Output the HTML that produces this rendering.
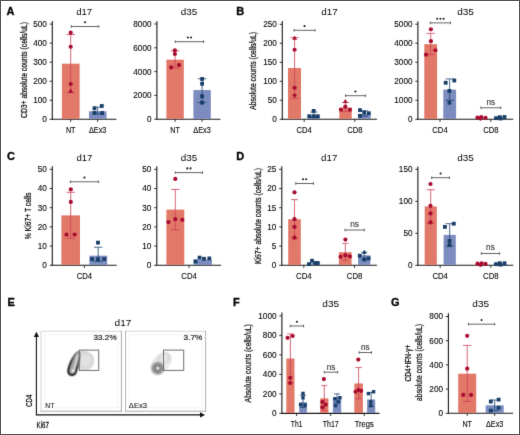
<!DOCTYPE html>
<html><head><meta charset="utf-8"><title>Figure</title>
<style>
html,body{margin:0;padding:0;background:#fff;}
body{width:520px;height:435px;overflow:hidden;}
svg{display:block;font-family:"Liberation Sans", sans-serif;will-change:transform;}
</style></head>
<body>
<svg width="520" height="435" viewBox="0 0 520 435" font-family='"Liberation Sans", sans-serif'>
<defs><filter id="soft" x="0" y="0" width="520" height="435" filterUnits="userSpaceOnUse" color-interpolation-filters="sRGB"><feConvolveMatrix order="3" kernelMatrix="0.00810 0.07380 0.00810 0.07380 0.67240 0.07380 0.00810 0.07380 0.00810" edgeMode="none"/></filter></defs>
<rect x="0" y="0" width="520" height="435" fill="#fff"/>
<g filter="url(#soft)">
<text x="6.60" y="15.10" font-size="11.0" font-weight="bold" fill="#000" stroke="#000" stroke-width="0.3">A</text>
<text x="236.30" y="15.10" font-size="11.0" font-weight="bold" fill="#000" stroke="#000" stroke-width="0.3">B</text>
<text x="7.00" y="159.90" font-size="11.0" font-weight="bold" fill="#000" stroke="#000" stroke-width="0.3">C</text>
<text x="236.20" y="159.90" font-size="11.0" font-weight="bold" fill="#000" stroke="#000" stroke-width="0.3">D</text>
<text x="7.40" y="306.20" font-size="11.0" font-weight="bold" fill="#000" stroke="#000" stroke-width="0.3">E</text>
<text x="232.90" y="306.00" font-size="11.0" font-weight="bold" fill="#000" stroke="#000" stroke-width="0.3">F</text>
<text x="391.00" y="306.00" font-size="11.0" font-weight="bold" fill="#000" stroke="#000" stroke-width="0.3">G</text>
<line x1="52.30" y1="21.00" x2="52.30" y2="119.80" stroke="#1a1a1a" stroke-width="1.1"/>
<line x1="51.80" y1="119.30" x2="116.40" y2="119.30" stroke="#1a1a1a" stroke-width="1.1"/>
<line x1="49.70" y1="119.30" x2="52.30" y2="119.30" stroke="#1a1a1a" stroke-width="0.9"/>
<text x="46.90" y="122.25" font-size="8.2" stroke="#1a1a1a" stroke-width="0.12" text-anchor="end">0</text>
<line x1="49.70" y1="100.26" x2="52.30" y2="100.26" stroke="#1a1a1a" stroke-width="0.9"/>
<text x="46.90" y="103.21" font-size="8.2" stroke="#1a1a1a" stroke-width="0.12" text-anchor="end">100</text>
<line x1="49.70" y1="81.22" x2="52.30" y2="81.22" stroke="#1a1a1a" stroke-width="0.9"/>
<text x="46.90" y="84.17" font-size="8.2" stroke="#1a1a1a" stroke-width="0.12" text-anchor="end">200</text>
<line x1="49.70" y1="62.18" x2="52.30" y2="62.18" stroke="#1a1a1a" stroke-width="0.9"/>
<text x="46.90" y="65.13" font-size="8.2" stroke="#1a1a1a" stroke-width="0.12" text-anchor="end">300</text>
<line x1="49.70" y1="43.14" x2="52.30" y2="43.14" stroke="#1a1a1a" stroke-width="0.9"/>
<text x="46.90" y="46.09" font-size="8.2" stroke="#1a1a1a" stroke-width="0.12" text-anchor="end">400</text>
<line x1="49.70" y1="24.10" x2="52.30" y2="24.10" stroke="#1a1a1a" stroke-width="0.9"/>
<text x="46.90" y="27.05" font-size="8.2" stroke="#1a1a1a" stroke-width="0.12" text-anchor="end">500</text>
<text x="84.15" y="15.30" font-size="9.2" text-anchor="middle" textLength="16.00" lengthAdjust="spacingAndGlyphs">d17</text>
<text x="26.50" y="70.00" font-size="8.9" stroke="#1a1a1a" stroke-width="0.25" text-anchor="middle" textLength="95.80" lengthAdjust="spacingAndGlyphs" transform="rotate(-90 26.50 70.00)">CD3+ absolute counts (cells/uL)</text>
<rect x="61.90" y="63.70" width="17.70" height="55.20" fill="#E17868"/>
<rect x="89.00" y="111.30" width="17.50" height="7.60" fill="#7C8CBF"/>
<line x1="70.70" y1="34.57" x2="70.70" y2="92.64" stroke="#CE4058" stroke-width="0.8"/>
<line x1="66.50" y1="34.57" x2="74.90" y2="34.57" stroke="#CE4058" stroke-width="0.8"/>
<line x1="66.50" y1="92.64" x2="74.90" y2="92.64" stroke="#CE4058" stroke-width="0.8"/>
<line x1="97.70" y1="107.11" x2="97.70" y2="113.97" stroke="#1E4470" stroke-width="0.8"/>
<line x1="93.50" y1="107.11" x2="101.90" y2="107.11" stroke="#1E4470" stroke-width="0.8"/>
<line x1="93.50" y1="113.97" x2="101.90" y2="113.97" stroke="#1E4470" stroke-width="0.8"/>
<circle cx="70.70" cy="32.67" r="2.1" fill="#A80C30"/>
<circle cx="70.70" cy="46.76" r="2.1" fill="#A80C30"/>
<circle cx="70.70" cy="84.08" r="2.1" fill="#A80C30"/>
<path d="M70.70,88.61L73.20,92.79L68.20,92.79Z" fill="#A80C30"/>
<rect x="99.90" y="104.07" width="3.8" height="3.8" fill="#183E68"/>
<rect x="92.60" y="106.36" width="3.8" height="3.8" fill="#183E68"/>
<rect x="92.60" y="110.93" width="3.8" height="3.8" fill="#183E68"/>
<rect x="100.20" y="111.12" width="3.8" height="3.8" fill="#183E68"/>
<line x1="70.70" y1="119.30" x2="70.70" y2="121.90" stroke="#1a1a1a" stroke-width="0.9"/>
<line x1="97.70" y1="119.30" x2="97.70" y2="121.90" stroke="#1a1a1a" stroke-width="0.9"/>
<text x="70.70" y="132.70" font-size="8.3" stroke="#1a1a1a" stroke-width="0.12" text-anchor="middle" textLength="9.60" lengthAdjust="spacingAndGlyphs">NT</text>
<text x="97.70" y="132.70" font-size="8.3" stroke="#1a1a1a" stroke-width="0.12" text-anchor="middle" textLength="17.50" lengthAdjust="spacingAndGlyphs">ΔEx3</text>
<line x1="71.30" y1="26.50" x2="98.80" y2="26.50" stroke="#484848" stroke-width="0.85"/>
<line x1="71.30" y1="25.20" x2="71.30" y2="27.80" stroke="#484848" stroke-width="0.85"/>
<line x1="98.80" y1="25.20" x2="98.80" y2="27.80" stroke="#484848" stroke-width="0.85"/>
<circle cx="85.05" cy="22.30" r="1.05" fill="#1a1a1a"/>
<line x1="156.90" y1="21.30" x2="156.90" y2="119.75" stroke="#1a1a1a" stroke-width="1.1"/>
<line x1="156.40" y1="119.25" x2="220.40" y2="119.25" stroke="#1a1a1a" stroke-width="1.1"/>
<line x1="154.30" y1="119.25" x2="156.90" y2="119.25" stroke="#1a1a1a" stroke-width="0.9"/>
<text x="151.50" y="122.20" font-size="8.2" stroke="#1a1a1a" stroke-width="0.12" text-anchor="end">0</text>
<line x1="154.30" y1="95.43" x2="156.90" y2="95.43" stroke="#1a1a1a" stroke-width="0.9"/>
<text x="151.50" y="98.38" font-size="8.2" stroke="#1a1a1a" stroke-width="0.12" text-anchor="end">2000</text>
<line x1="154.30" y1="71.61" x2="156.90" y2="71.61" stroke="#1a1a1a" stroke-width="0.9"/>
<text x="151.50" y="74.56" font-size="8.2" stroke="#1a1a1a" stroke-width="0.12" text-anchor="end">4000</text>
<line x1="154.30" y1="47.79" x2="156.90" y2="47.79" stroke="#1a1a1a" stroke-width="0.9"/>
<text x="151.50" y="50.74" font-size="8.2" stroke="#1a1a1a" stroke-width="0.12" text-anchor="end">6000</text>
<line x1="154.30" y1="23.97" x2="156.90" y2="23.97" stroke="#1a1a1a" stroke-width="0.9"/>
<text x="151.50" y="26.92" font-size="8.2" stroke="#1a1a1a" stroke-width="0.12" text-anchor="end">8000</text>
<text x="189.00" y="15.40" font-size="9.2" text-anchor="middle" textLength="16.50" lengthAdjust="spacingAndGlyphs">d35</text>
<rect x="166.40" y="59.70" width="17.40" height="59.15" fill="#E17868"/>
<rect x="193.40" y="90.07" width="17.40" height="28.78" fill="#7C8CBF"/>
<line x1="175.10" y1="50.77" x2="175.10" y2="68.04" stroke="#CE4058" stroke-width="0.8"/>
<line x1="170.90" y1="50.77" x2="179.30" y2="50.77" stroke="#CE4058" stroke-width="0.8"/>
<line x1="170.90" y1="68.04" x2="179.30" y2="68.04" stroke="#CE4058" stroke-width="0.8"/>
<line x1="202.10" y1="78.76" x2="202.10" y2="102.58" stroke="#1E4470" stroke-width="0.8"/>
<line x1="197.90" y1="78.76" x2="206.30" y2="78.76" stroke="#1E4470" stroke-width="0.8"/>
<line x1="197.90" y1="102.58" x2="206.30" y2="102.58" stroke="#1E4470" stroke-width="0.8"/>
<circle cx="174.90" cy="50.41" r="2.1" fill="#A80C30"/>
<circle cx="174.90" cy="53.98" r="2.1" fill="#A80C30"/>
<circle cx="171.20" cy="67.44" r="2.1" fill="#A80C30"/>
<circle cx="179.00" cy="65.06" r="2.1" fill="#A80C30"/>
<rect x="200.20" y="77.09" width="3.8" height="3.8" fill="#183E68"/>
<rect x="200.20" y="81.86" width="3.8" height="3.8" fill="#183E68"/>
<rect x="200.20" y="94.36" width="3.8" height="3.8" fill="#183E68"/>
<rect x="200.20" y="100.80" width="3.8" height="3.8" fill="#183E68"/>
<line x1="175.10" y1="119.25" x2="175.10" y2="121.85" stroke="#1a1a1a" stroke-width="0.9"/>
<line x1="202.10" y1="119.25" x2="202.10" y2="121.85" stroke="#1a1a1a" stroke-width="0.9"/>
<text x="175.10" y="132.70" font-size="8.3" stroke="#1a1a1a" stroke-width="0.12" text-anchor="middle" textLength="9.60" lengthAdjust="spacingAndGlyphs">NT</text>
<text x="202.10" y="132.70" font-size="8.3" stroke="#1a1a1a" stroke-width="0.12" text-anchor="middle" textLength="17.50" lengthAdjust="spacingAndGlyphs">ΔEx3</text>
<line x1="175.30" y1="41.70" x2="203.60" y2="41.70" stroke="#484848" stroke-width="0.85"/>
<line x1="175.30" y1="40.40" x2="175.30" y2="43.00" stroke="#484848" stroke-width="0.85"/>
<line x1="203.60" y1="40.40" x2="203.60" y2="43.00" stroke="#484848" stroke-width="0.85"/>
<circle cx="187.85" cy="37.50" r="1.05" fill="#1a1a1a"/>
<circle cx="191.05" cy="37.50" r="1.05" fill="#1a1a1a"/>
<line x1="282.30" y1="21.00" x2="282.30" y2="119.75" stroke="#1a1a1a" stroke-width="1.1"/>
<line x1="281.80" y1="119.25" x2="377.00" y2="119.25" stroke="#1a1a1a" stroke-width="1.1"/>
<line x1="279.70" y1="119.25" x2="282.30" y2="119.25" stroke="#1a1a1a" stroke-width="0.9"/>
<text x="276.90" y="122.20" font-size="8.2" stroke="#1a1a1a" stroke-width="0.12" text-anchor="end">0</text>
<line x1="279.70" y1="100.27" x2="282.30" y2="100.27" stroke="#1a1a1a" stroke-width="0.9"/>
<text x="276.90" y="103.22" font-size="8.2" stroke="#1a1a1a" stroke-width="0.12" text-anchor="end">50</text>
<line x1="279.70" y1="81.28" x2="282.30" y2="81.28" stroke="#1a1a1a" stroke-width="0.9"/>
<text x="276.90" y="84.23" font-size="8.2" stroke="#1a1a1a" stroke-width="0.12" text-anchor="end">100</text>
<line x1="279.70" y1="62.30" x2="282.30" y2="62.30" stroke="#1a1a1a" stroke-width="0.9"/>
<text x="276.90" y="65.25" font-size="8.2" stroke="#1a1a1a" stroke-width="0.12" text-anchor="end">150</text>
<line x1="279.70" y1="43.31" x2="282.30" y2="43.31" stroke="#1a1a1a" stroke-width="0.9"/>
<text x="276.90" y="46.26" font-size="8.2" stroke="#1a1a1a" stroke-width="0.12" text-anchor="end">200</text>
<line x1="279.70" y1="24.33" x2="282.30" y2="24.33" stroke="#1a1a1a" stroke-width="0.9"/>
<text x="276.90" y="27.28" font-size="8.2" stroke="#1a1a1a" stroke-width="0.12" text-anchor="end">250</text>
<text x="329.40" y="15.40" font-size="9.2" text-anchor="middle" textLength="16.50" lengthAdjust="spacingAndGlyphs">d17</text>
<text x="255.60" y="70.85" font-size="8.8" stroke="#1a1a1a" stroke-width="0.25" text-anchor="middle" textLength="77.70" lengthAdjust="spacingAndGlyphs" transform="rotate(-90 255.60 70.85)">Absolute counts (cells/uL)</text>
<rect x="288.00" y="67.99" width="13.00" height="50.86" fill="#E17868"/>
<rect x="307.60" y="115.07" width="12.40" height="3.78" fill="#7C8CBF"/>
<rect x="339.30" y="107.48" width="12.40" height="11.37" fill="#E17868"/>
<rect x="358.20" y="113.93" width="12.50" height="4.92" fill="#7C8CBF"/>
<line x1="294.60" y1="37.61" x2="294.60" y2="98.37" stroke="#CE4058" stroke-width="0.8"/>
<line x1="290.40" y1="37.61" x2="298.80" y2="37.61" stroke="#CE4058" stroke-width="0.8"/>
<line x1="290.40" y1="98.37" x2="298.80" y2="98.37" stroke="#CE4058" stroke-width="0.8"/>
<line x1="313.80" y1="112.04" x2="313.80" y2="117.73" stroke="#1E4470" stroke-width="0.8"/>
<line x1="310.30" y1="112.04" x2="317.30" y2="112.04" stroke="#1E4470" stroke-width="0.8"/>
<line x1="310.30" y1="117.73" x2="317.30" y2="117.73" stroke="#1E4470" stroke-width="0.8"/>
<line x1="345.50" y1="102.54" x2="345.50" y2="111.66" stroke="#CE4058" stroke-width="0.8"/>
<line x1="342.00" y1="102.54" x2="349.00" y2="102.54" stroke="#CE4058" stroke-width="0.8"/>
<line x1="342.00" y1="111.66" x2="349.00" y2="111.66" stroke="#CE4058" stroke-width="0.8"/>
<line x1="364.40" y1="110.90" x2="364.40" y2="116.21" stroke="#1E4470" stroke-width="0.8"/>
<line x1="360.90" y1="110.90" x2="367.90" y2="110.90" stroke="#1E4470" stroke-width="0.8"/>
<line x1="360.90" y1="116.21" x2="367.90" y2="116.21" stroke="#1E4470" stroke-width="0.8"/>
<path d="M294.60,35.49L297.10,39.67L292.10,39.67Z" fill="#A80C30"/>
<circle cx="294.60" cy="49.76" r="2.1" fill="#A80C30"/>
<circle cx="294.60" cy="87.73" r="2.1" fill="#A80C30"/>
<path d="M294.60,92.97L296.96,95.33L294.60,97.68L292.24,95.33Z" fill="#A80C30"/>
<rect x="311.80" y="109.00" width="3.8" height="3.8" fill="#183E68"/>
<rect x="307.40" y="114.31" width="3.8" height="3.8" fill="#183E68"/>
<rect x="311.80" y="114.31" width="3.8" height="3.8" fill="#183E68"/>
<rect x="315.70" y="114.31" width="3.8" height="3.8" fill="#183E68"/>
<path d="M345.30,98.90L347.80,103.08L342.80,103.08Z" fill="#A80C30"/>
<circle cx="345.30" cy="106.72" r="2.1" fill="#A80C30"/>
<circle cx="340.90" cy="109.76" r="2.1" fill="#A80C30"/>
<circle cx="350.00" cy="109.76" r="2.1" fill="#A80C30"/>
<rect x="358.10" y="108.24" width="3.8" height="3.8" fill="#183E68"/>
<rect x="362.30" y="110.52" width="3.8" height="3.8" fill="#183E68"/>
<rect x="366.90" y="111.27" width="3.8" height="3.8" fill="#183E68"/>
<rect x="358.10" y="113.93" width="3.8" height="3.8" fill="#183E68"/>
<line x1="304.20" y1="119.25" x2="304.20" y2="121.85" stroke="#1a1a1a" stroke-width="0.9"/>
<line x1="354.80" y1="119.25" x2="354.80" y2="121.85" stroke="#1a1a1a" stroke-width="0.9"/>
<text x="304.20" y="132.70" font-size="8.3" stroke="#1a1a1a" stroke-width="0.12" text-anchor="middle" textLength="15.30" lengthAdjust="spacingAndGlyphs">CD4</text>
<text x="354.80" y="132.70" font-size="8.3" stroke="#1a1a1a" stroke-width="0.12" text-anchor="middle" textLength="15.30" lengthAdjust="spacingAndGlyphs">CD8</text>
<line x1="294.00" y1="30.30" x2="315.00" y2="30.30" stroke="#484848" stroke-width="0.85"/>
<line x1="294.00" y1="29.00" x2="294.00" y2="31.60" stroke="#484848" stroke-width="0.85"/>
<line x1="315.00" y1="29.00" x2="315.00" y2="31.60" stroke="#484848" stroke-width="0.85"/>
<circle cx="304.50" cy="26.10" r="1.05" fill="#1a1a1a"/>
<line x1="345.50" y1="95.70" x2="365.40" y2="95.70" stroke="#484848" stroke-width="0.85"/>
<line x1="345.50" y1="94.40" x2="345.50" y2="97.00" stroke="#484848" stroke-width="0.85"/>
<line x1="365.40" y1="94.40" x2="365.40" y2="97.00" stroke="#484848" stroke-width="0.85"/>
<circle cx="355.45" cy="91.50" r="1.05" fill="#1a1a1a"/>
<line x1="417.90" y1="21.30" x2="417.90" y2="119.80" stroke="#1a1a1a" stroke-width="1.1"/>
<line x1="417.40" y1="119.30" x2="513.20" y2="119.30" stroke="#1a1a1a" stroke-width="1.1"/>
<line x1="415.30" y1="119.30" x2="417.90" y2="119.30" stroke="#1a1a1a" stroke-width="0.9"/>
<text x="412.50" y="122.25" font-size="8.2" stroke="#1a1a1a" stroke-width="0.12" text-anchor="end">0</text>
<line x1="415.30" y1="100.28" x2="417.90" y2="100.28" stroke="#1a1a1a" stroke-width="0.9"/>
<text x="412.50" y="103.23" font-size="8.2" stroke="#1a1a1a" stroke-width="0.12" text-anchor="end">1000</text>
<line x1="415.30" y1="81.26" x2="417.90" y2="81.26" stroke="#1a1a1a" stroke-width="0.9"/>
<text x="412.50" y="84.21" font-size="8.2" stroke="#1a1a1a" stroke-width="0.12" text-anchor="end">2000</text>
<line x1="415.30" y1="62.24" x2="417.90" y2="62.24" stroke="#1a1a1a" stroke-width="0.9"/>
<text x="412.50" y="65.19" font-size="8.2" stroke="#1a1a1a" stroke-width="0.12" text-anchor="end">3000</text>
<line x1="415.30" y1="43.22" x2="417.90" y2="43.22" stroke="#1a1a1a" stroke-width="0.9"/>
<text x="412.50" y="46.17" font-size="8.2" stroke="#1a1a1a" stroke-width="0.12" text-anchor="end">4000</text>
<line x1="415.30" y1="24.20" x2="417.90" y2="24.20" stroke="#1a1a1a" stroke-width="0.9"/>
<text x="412.50" y="27.15" font-size="8.2" stroke="#1a1a1a" stroke-width="0.12" text-anchor="end">5000</text>
<text x="465.60" y="15.40" font-size="9.2" text-anchor="middle" textLength="16.70" lengthAdjust="spacingAndGlyphs">d35</text>
<rect x="424.30" y="44.17" width="12.80" height="74.73" fill="#E17868"/>
<rect x="443.30" y="89.63" width="12.80" height="29.27" fill="#7C8CBF"/>
<rect x="475.50" y="118.16" width="12.50" height="0.74" fill="#E17868"/>
<rect x="494.20" y="117.97" width="12.40" height="0.93" fill="#7C8CBF"/>
<line x1="430.70" y1="33.33" x2="430.70" y2="54.63" stroke="#CE4058" stroke-width="0.8"/>
<line x1="426.50" y1="33.33" x2="434.90" y2="33.33" stroke="#CE4058" stroke-width="0.8"/>
<line x1="426.50" y1="54.63" x2="434.90" y2="54.63" stroke="#CE4058" stroke-width="0.8"/>
<line x1="449.70" y1="78.98" x2="449.70" y2="100.28" stroke="#1E4470" stroke-width="0.8"/>
<line x1="445.50" y1="78.98" x2="453.90" y2="78.98" stroke="#1E4470" stroke-width="0.8"/>
<line x1="445.50" y1="100.28" x2="453.90" y2="100.28" stroke="#1E4470" stroke-width="0.8"/>
<circle cx="430.90" cy="29.34" r="2.1" fill="#A80C30"/>
<circle cx="430.90" cy="41.13" r="2.1" fill="#A80C30"/>
<circle cx="426.00" cy="54.63" r="2.1" fill="#A80C30"/>
<circle cx="435.40" cy="50.26" r="2.1" fill="#A80C30"/>
<rect x="443.80" y="80.88" width="3.8" height="3.8" fill="#183E68"/>
<rect x="452.40" y="78.60" width="3.8" height="3.8" fill="#183E68"/>
<rect x="447.50" y="89.06" width="3.8" height="3.8" fill="#183E68"/>
<rect x="447.50" y="100.85" width="3.8" height="3.8" fill="#183E68"/>
<circle cx="477.50" cy="117.59" r="2.1" fill="#A80C30"/>
<circle cx="481.30" cy="117.21" r="2.1" fill="#A80C30"/>
<circle cx="485.50" cy="117.78" r="2.1" fill="#A80C30"/>
<circle cx="480.50" cy="118.54" r="2.1" fill="#A80C30"/>
<rect x="494.10" y="116.26" width="3.8" height="3.8" fill="#183E68"/>
<rect x="497.90" y="115.31" width="3.8" height="3.8" fill="#183E68"/>
<rect x="502.60" y="115.12" width="3.8" height="3.8" fill="#183E68"/>
<rect x="498.60" y="116.64" width="3.8" height="3.8" fill="#183E68"/>
<line x1="440.00" y1="119.30" x2="440.00" y2="121.90" stroke="#1a1a1a" stroke-width="0.9"/>
<line x1="490.80" y1="119.30" x2="490.80" y2="121.90" stroke="#1a1a1a" stroke-width="0.9"/>
<text x="440.00" y="132.70" font-size="8.3" stroke="#1a1a1a" stroke-width="0.12" text-anchor="middle" textLength="15.30" lengthAdjust="spacingAndGlyphs">CD4</text>
<text x="490.80" y="132.70" font-size="8.3" stroke="#1a1a1a" stroke-width="0.12" text-anchor="middle" textLength="15.30" lengthAdjust="spacingAndGlyphs">CD8</text>
<line x1="430.20" y1="22.90" x2="450.60" y2="22.90" stroke="#484848" stroke-width="0.85"/>
<line x1="430.20" y1="21.60" x2="430.20" y2="24.20" stroke="#484848" stroke-width="0.85"/>
<line x1="450.60" y1="21.60" x2="450.60" y2="24.20" stroke="#484848" stroke-width="0.85"/>
<circle cx="437.20" cy="18.70" r="1.05" fill="#1a1a1a"/>
<circle cx="440.40" cy="18.70" r="1.05" fill="#1a1a1a"/>
<circle cx="443.60" cy="18.70" r="1.05" fill="#1a1a1a"/>
<line x1="480.90" y1="107.80" x2="500.80" y2="107.80" stroke="#484848" stroke-width="0.85"/>
<line x1="480.90" y1="106.50" x2="480.90" y2="109.10" stroke="#484848" stroke-width="0.85"/>
<line x1="500.80" y1="106.50" x2="500.80" y2="109.10" stroke="#484848" stroke-width="0.85"/>
<text x="490.85" y="104.60" font-size="8.2" stroke="#333" stroke-width="0.12" text-anchor="middle" fill="#333">ns</text>
<line x1="52.30" y1="166.30" x2="52.30" y2="265.80" stroke="#1a1a1a" stroke-width="1.1"/>
<line x1="51.80" y1="265.30" x2="116.70" y2="265.30" stroke="#1a1a1a" stroke-width="1.1"/>
<line x1="49.70" y1="265.30" x2="52.30" y2="265.30" stroke="#1a1a1a" stroke-width="0.9"/>
<text x="46.90" y="268.25" font-size="8.2" stroke="#1a1a1a" stroke-width="0.12" text-anchor="end">0</text>
<line x1="49.70" y1="246.10" x2="52.30" y2="246.10" stroke="#1a1a1a" stroke-width="0.9"/>
<text x="46.90" y="249.05" font-size="8.2" stroke="#1a1a1a" stroke-width="0.12" text-anchor="end">10</text>
<line x1="49.70" y1="226.90" x2="52.30" y2="226.90" stroke="#1a1a1a" stroke-width="0.9"/>
<text x="46.90" y="229.85" font-size="8.2" stroke="#1a1a1a" stroke-width="0.12" text-anchor="end">20</text>
<line x1="49.70" y1="207.70" x2="52.30" y2="207.70" stroke="#1a1a1a" stroke-width="0.9"/>
<text x="46.90" y="210.65" font-size="8.2" stroke="#1a1a1a" stroke-width="0.12" text-anchor="end">30</text>
<line x1="49.70" y1="188.50" x2="52.30" y2="188.50" stroke="#1a1a1a" stroke-width="0.9"/>
<text x="46.90" y="191.45" font-size="8.2" stroke="#1a1a1a" stroke-width="0.12" text-anchor="end">40</text>
<line x1="49.70" y1="169.30" x2="52.30" y2="169.30" stroke="#1a1a1a" stroke-width="0.9"/>
<text x="46.90" y="172.25" font-size="8.2" stroke="#1a1a1a" stroke-width="0.12" text-anchor="end">50</text>
<text x="84.40" y="160.70" font-size="9.2" text-anchor="middle" textLength="16.00" lengthAdjust="spacingAndGlyphs">d17</text>
<text x="31.20" y="215.95" font-size="8.8" stroke="#1a1a1a" stroke-width="0.25" text-anchor="middle" textLength="46.70" lengthAdjust="spacingAndGlyphs" transform="rotate(-90 31.20 215.95)">% Ki67+ T cells</text>
<rect x="61.40" y="215.38" width="18.60" height="49.52" fill="#E17868"/>
<rect x="89.40" y="255.70" width="17.80" height="9.20" fill="#7C8CBF"/>
<line x1="70.70" y1="192.34" x2="70.70" y2="238.42" stroke="#CE4058" stroke-width="0.8"/>
<line x1="66.50" y1="192.34" x2="74.90" y2="192.34" stroke="#CE4058" stroke-width="0.8"/>
<line x1="66.50" y1="238.42" x2="74.90" y2="238.42" stroke="#CE4058" stroke-width="0.8"/>
<line x1="98.20" y1="247.25" x2="98.20" y2="261.46" stroke="#1E4470" stroke-width="0.8"/>
<line x1="94.00" y1="247.25" x2="102.40" y2="247.25" stroke="#1E4470" stroke-width="0.8"/>
<line x1="94.00" y1="261.46" x2="102.40" y2="261.46" stroke="#1E4470" stroke-width="0.8"/>
<circle cx="70.80" cy="189.46" r="2.1" fill="#A80C30"/>
<circle cx="70.80" cy="201.94" r="2.1" fill="#A80C30"/>
<circle cx="66.50" cy="234.58" r="2.1" fill="#A80C30"/>
<circle cx="74.60" cy="234.58" r="2.1" fill="#A80C30"/>
<rect x="96.10" y="240.74" width="3.8" height="3.8" fill="#183E68"/>
<rect x="90.10" y="257.26" width="3.8" height="3.8" fill="#183E68"/>
<rect x="96.10" y="257.26" width="3.8" height="3.8" fill="#183E68"/>
<rect x="102.30" y="257.26" width="3.8" height="3.8" fill="#183E68"/>
<line x1="84.40" y1="265.30" x2="84.40" y2="267.90" stroke="#1a1a1a" stroke-width="0.9"/>
<text x="84.40" y="278.80" font-size="8.3" stroke="#1a1a1a" stroke-width="0.12" text-anchor="middle" textLength="15.50" lengthAdjust="spacingAndGlyphs">CD4</text>
<line x1="70.30" y1="181.80" x2="98.60" y2="181.80" stroke="#484848" stroke-width="0.85"/>
<line x1="70.30" y1="180.50" x2="70.30" y2="183.10" stroke="#484848" stroke-width="0.85"/>
<line x1="98.60" y1="180.50" x2="98.60" y2="183.10" stroke="#484848" stroke-width="0.85"/>
<circle cx="84.45" cy="177.60" r="1.05" fill="#1a1a1a"/>
<line x1="156.80" y1="166.30" x2="156.80" y2="265.80" stroke="#1a1a1a" stroke-width="1.1"/>
<line x1="156.30" y1="265.30" x2="221.10" y2="265.30" stroke="#1a1a1a" stroke-width="1.1"/>
<line x1="154.20" y1="265.30" x2="156.80" y2="265.30" stroke="#1a1a1a" stroke-width="0.9"/>
<text x="151.40" y="268.25" font-size="8.2" stroke="#1a1a1a" stroke-width="0.12" text-anchor="end">0</text>
<line x1="154.20" y1="246.10" x2="156.80" y2="246.10" stroke="#1a1a1a" stroke-width="0.9"/>
<text x="151.40" y="249.05" font-size="8.2" stroke="#1a1a1a" stroke-width="0.12" text-anchor="end">10</text>
<line x1="154.20" y1="226.90" x2="156.80" y2="226.90" stroke="#1a1a1a" stroke-width="0.9"/>
<text x="151.40" y="229.85" font-size="8.2" stroke="#1a1a1a" stroke-width="0.12" text-anchor="end">20</text>
<line x1="154.20" y1="207.70" x2="156.80" y2="207.70" stroke="#1a1a1a" stroke-width="0.9"/>
<text x="151.40" y="210.65" font-size="8.2" stroke="#1a1a1a" stroke-width="0.12" text-anchor="end">30</text>
<line x1="154.20" y1="188.50" x2="156.80" y2="188.50" stroke="#1a1a1a" stroke-width="0.9"/>
<text x="151.40" y="191.45" font-size="8.2" stroke="#1a1a1a" stroke-width="0.12" text-anchor="end">40</text>
<line x1="154.20" y1="169.30" x2="156.80" y2="169.30" stroke="#1a1a1a" stroke-width="0.9"/>
<text x="151.40" y="172.25" font-size="8.2" stroke="#1a1a1a" stroke-width="0.12" text-anchor="end">50</text>
<text x="189.00" y="160.70" font-size="9.2" text-anchor="middle" textLength="16.50" lengthAdjust="spacingAndGlyphs">d35</text>
<rect x="166.40" y="209.62" width="17.90" height="55.28" fill="#E17868"/>
<rect x="193.70" y="259.54" width="18.20" height="5.36" fill="#7C8CBF"/>
<line x1="175.30" y1="189.46" x2="175.30" y2="229.78" stroke="#CE4058" stroke-width="0.8"/>
<line x1="171.10" y1="189.46" x2="179.50" y2="189.46" stroke="#CE4058" stroke-width="0.8"/>
<line x1="171.10" y1="229.78" x2="179.50" y2="229.78" stroke="#CE4058" stroke-width="0.8"/>
<circle cx="175.30" cy="178.90" r="2.1" fill="#A80C30"/>
<circle cx="168.40" cy="222.10" r="2.1" fill="#A80C30"/>
<circle cx="175.30" cy="219.22" r="2.1" fill="#A80C30"/>
<circle cx="182.30" cy="219.80" r="2.1" fill="#A80C30"/>
<rect x="193.60" y="259.56" width="3.8" height="3.8" fill="#183E68"/>
<rect x="197.70" y="255.72" width="3.8" height="3.8" fill="#183E68"/>
<rect x="202.10" y="256.87" width="3.8" height="3.8" fill="#183E68"/>
<rect x="207.40" y="256.49" width="3.8" height="3.8" fill="#183E68"/>
<line x1="189.10" y1="265.30" x2="189.10" y2="267.90" stroke="#1a1a1a" stroke-width="0.9"/>
<text x="189.10" y="278.80" font-size="8.3" stroke="#1a1a1a" stroke-width="0.12" text-anchor="middle" textLength="15.50" lengthAdjust="spacingAndGlyphs">CD4</text>
<line x1="175.30" y1="172.60" x2="202.50" y2="172.60" stroke="#484848" stroke-width="0.85"/>
<line x1="175.30" y1="171.30" x2="175.30" y2="173.90" stroke="#484848" stroke-width="0.85"/>
<line x1="202.50" y1="171.30" x2="202.50" y2="173.90" stroke="#484848" stroke-width="0.85"/>
<circle cx="187.30" cy="168.40" r="1.05" fill="#1a1a1a"/>
<circle cx="190.50" cy="168.40" r="1.05" fill="#1a1a1a"/>
<line x1="281.80" y1="166.30" x2="281.80" y2="265.80" stroke="#1a1a1a" stroke-width="1.1"/>
<line x1="281.30" y1="265.30" x2="377.00" y2="265.30" stroke="#1a1a1a" stroke-width="1.1"/>
<line x1="279.20" y1="265.30" x2="281.80" y2="265.30" stroke="#1a1a1a" stroke-width="0.9"/>
<text x="276.40" y="268.25" font-size="8.2" stroke="#1a1a1a" stroke-width="0.12" text-anchor="end">0</text>
<line x1="279.20" y1="246.10" x2="281.80" y2="246.10" stroke="#1a1a1a" stroke-width="0.9"/>
<text x="276.40" y="249.05" font-size="8.2" stroke="#1a1a1a" stroke-width="0.12" text-anchor="end">5</text>
<line x1="279.20" y1="226.90" x2="281.80" y2="226.90" stroke="#1a1a1a" stroke-width="0.9"/>
<text x="276.40" y="229.85" font-size="8.2" stroke="#1a1a1a" stroke-width="0.12" text-anchor="end">10</text>
<line x1="279.20" y1="207.70" x2="281.80" y2="207.70" stroke="#1a1a1a" stroke-width="0.9"/>
<text x="276.40" y="210.65" font-size="8.2" stroke="#1a1a1a" stroke-width="0.12" text-anchor="end">15</text>
<line x1="279.20" y1="188.50" x2="281.80" y2="188.50" stroke="#1a1a1a" stroke-width="0.9"/>
<text x="276.40" y="191.45" font-size="8.2" stroke="#1a1a1a" stroke-width="0.12" text-anchor="end">20</text>
<line x1="279.20" y1="169.30" x2="281.80" y2="169.30" stroke="#1a1a1a" stroke-width="0.9"/>
<text x="276.40" y="172.25" font-size="8.2" stroke="#1a1a1a" stroke-width="0.12" text-anchor="end">25</text>
<text x="329.20" y="160.70" font-size="9.2" text-anchor="middle" textLength="16.20" lengthAdjust="spacingAndGlyphs">d17</text>
<text x="260.60" y="216.00" font-size="8.8" stroke="#1a1a1a" stroke-width="0.25" text-anchor="middle" textLength="95.80" lengthAdjust="spacingAndGlyphs" transform="rotate(-90 260.60 216.00)">Ki67+ absolute counts (cells/uL)</text>
<rect x="288.20" y="219.22" width="12.60" height="45.68" fill="#E17868"/>
<rect x="307.60" y="262.61" width="11.90" height="2.29" fill="#7C8CBF"/>
<rect x="338.90" y="252.24" width="12.70" height="12.66" fill="#E17868"/>
<rect x="358.10" y="255.32" width="12.20" height="9.58" fill="#7C8CBF"/>
<line x1="294.50" y1="199.64" x2="294.50" y2="238.42" stroke="#CE4058" stroke-width="0.8"/>
<line x1="291.00" y1="199.64" x2="298.00" y2="199.64" stroke="#CE4058" stroke-width="0.8"/>
<line x1="291.00" y1="238.42" x2="298.00" y2="238.42" stroke="#CE4058" stroke-width="0.8"/>
<line x1="345.30" y1="243.41" x2="345.30" y2="260.31" stroke="#CE4058" stroke-width="0.8"/>
<line x1="342.30" y1="243.41" x2="348.30" y2="243.41" stroke="#CE4058" stroke-width="0.8"/>
<line x1="342.30" y1="260.31" x2="348.30" y2="260.31" stroke="#CE4058" stroke-width="0.8"/>
<line x1="364.30" y1="252.24" x2="364.30" y2="259.54" stroke="#1E4470" stroke-width="0.8"/>
<line x1="361.30" y1="252.24" x2="367.30" y2="252.24" stroke="#1E4470" stroke-width="0.8"/>
<line x1="361.30" y1="259.54" x2="367.30" y2="259.54" stroke="#1E4470" stroke-width="0.8"/>
<circle cx="294.50" cy="192.34" r="2.1" fill="#A80C30"/>
<circle cx="294.50" cy="219.22" r="2.1" fill="#A80C30"/>
<circle cx="294.50" cy="226.90" r="2.1" fill="#A80C30"/>
<circle cx="294.50" cy="237.65" r="2.1" fill="#A80C30"/>
<rect x="307.10" y="262.25" width="3.8" height="3.8" fill="#183E68"/>
<rect x="310.10" y="258.79" width="3.8" height="3.8" fill="#183E68"/>
<rect x="313.30" y="261.10" width="3.8" height="3.8" fill="#183E68"/>
<rect x="315.90" y="261.10" width="3.8" height="3.8" fill="#183E68"/>
<circle cx="345.40" cy="239.57" r="2.1" fill="#A80C30"/>
<circle cx="340.50" cy="256.85" r="2.1" fill="#A80C30"/>
<circle cx="345.40" cy="255.32" r="2.1" fill="#A80C30"/>
<circle cx="349.90" cy="256.47" r="2.1" fill="#A80C30"/>
<path d="M364.30,249.85L366.70,253.84L361.90,253.84Z" fill="#183E68"/>
<rect x="357.90" y="253.80" width="3.8" height="3.8" fill="#183E68"/>
<rect x="366.70" y="256.49" width="3.8" height="3.8" fill="#183E68"/>
<rect x="362.40" y="257.64" width="3.8" height="3.8" fill="#183E68"/>
<line x1="303.80" y1="265.30" x2="303.80" y2="267.90" stroke="#1a1a1a" stroke-width="0.9"/>
<line x1="354.60" y1="265.30" x2="354.60" y2="267.90" stroke="#1a1a1a" stroke-width="0.9"/>
<text x="303.80" y="278.80" font-size="8.3" stroke="#1a1a1a" stroke-width="0.12" text-anchor="middle" textLength="15.50" lengthAdjust="spacingAndGlyphs">CD4</text>
<text x="354.60" y="278.80" font-size="8.3" stroke="#1a1a1a" stroke-width="0.12" text-anchor="middle" textLength="15.50" lengthAdjust="spacingAndGlyphs">CD8</text>
<line x1="295.70" y1="183.50" x2="313.50" y2="183.50" stroke="#484848" stroke-width="0.85"/>
<line x1="295.70" y1="182.20" x2="295.70" y2="184.80" stroke="#484848" stroke-width="0.85"/>
<line x1="313.50" y1="182.20" x2="313.50" y2="184.80" stroke="#484848" stroke-width="0.85"/>
<circle cx="303.00" cy="179.30" r="1.05" fill="#1a1a1a"/>
<circle cx="306.20" cy="179.30" r="1.05" fill="#1a1a1a"/>
<line x1="345.00" y1="230.00" x2="364.30" y2="230.00" stroke="#484848" stroke-width="0.85"/>
<line x1="345.00" y1="228.70" x2="345.00" y2="231.30" stroke="#484848" stroke-width="0.85"/>
<line x1="364.30" y1="228.70" x2="364.30" y2="231.30" stroke="#484848" stroke-width="0.85"/>
<text x="354.65" y="226.80" font-size="8.2" stroke="#333" stroke-width="0.12" text-anchor="middle" fill="#333">ns</text>
<line x1="417.90" y1="166.40" x2="417.90" y2="265.80" stroke="#1a1a1a" stroke-width="1.1"/>
<line x1="417.40" y1="265.30" x2="513.20" y2="265.30" stroke="#1a1a1a" stroke-width="1.1"/>
<line x1="415.30" y1="265.30" x2="417.90" y2="265.30" stroke="#1a1a1a" stroke-width="0.9"/>
<text x="412.50" y="268.25" font-size="8.2" stroke="#1a1a1a" stroke-width="0.12" text-anchor="end">0</text>
<line x1="415.30" y1="233.30" x2="417.90" y2="233.30" stroke="#1a1a1a" stroke-width="0.9"/>
<text x="412.50" y="236.25" font-size="8.2" stroke="#1a1a1a" stroke-width="0.12" text-anchor="end">50</text>
<line x1="415.30" y1="201.30" x2="417.90" y2="201.30" stroke="#1a1a1a" stroke-width="0.9"/>
<text x="412.50" y="204.25" font-size="8.2" stroke="#1a1a1a" stroke-width="0.12" text-anchor="end">100</text>
<line x1="415.30" y1="169.30" x2="417.90" y2="169.30" stroke="#1a1a1a" stroke-width="0.9"/>
<text x="412.50" y="172.25" font-size="8.2" stroke="#1a1a1a" stroke-width="0.12" text-anchor="end">150</text>
<text x="465.60" y="160.70" font-size="9.2" text-anchor="middle" textLength="16.60" lengthAdjust="spacingAndGlyphs">d35</text>
<rect x="424.70" y="206.42" width="12.10" height="58.48" fill="#E17868"/>
<rect x="443.60" y="234.90" width="12.20" height="30.00" fill="#7C8CBF"/>
<rect x="475.50" y="264.34" width="12.50" height="0.56" fill="#E17868"/>
<rect x="494.20" y="264.02" width="12.40" height="0.88" fill="#7C8CBF"/>
<line x1="430.70" y1="189.78" x2="430.70" y2="223.06" stroke="#CE4058" stroke-width="0.8"/>
<line x1="426.50" y1="189.78" x2="434.90" y2="189.78" stroke="#CE4058" stroke-width="0.8"/>
<line x1="426.50" y1="223.06" x2="434.90" y2="223.06" stroke="#CE4058" stroke-width="0.8"/>
<line x1="449.70" y1="223.70" x2="449.70" y2="246.10" stroke="#1E4470" stroke-width="0.8"/>
<line x1="445.50" y1="223.70" x2="453.90" y2="223.70" stroke="#1E4470" stroke-width="0.8"/>
<line x1="445.50" y1="246.10" x2="453.90" y2="246.10" stroke="#1E4470" stroke-width="0.8"/>
<circle cx="430.50" cy="184.02" r="2.1" fill="#A80C30"/>
<circle cx="430.50" cy="205.78" r="2.1" fill="#A80C30"/>
<circle cx="430.50" cy="213.46" r="2.1" fill="#A80C30"/>
<circle cx="430.50" cy="222.42" r="2.1" fill="#A80C30"/>
<rect x="443.00" y="225.00" width="3.8" height="3.8" fill="#183E68"/>
<rect x="451.90" y="221.80" width="3.8" height="3.8" fill="#183E68"/>
<rect x="447.60" y="239.08" width="3.8" height="3.8" fill="#183E68"/>
<rect x="447.60" y="243.24" width="3.8" height="3.8" fill="#183E68"/>
<circle cx="477.50" cy="263.70" r="2.1" fill="#A80C30"/>
<circle cx="481.50" cy="263.25" r="2.1" fill="#A80C30"/>
<circle cx="485.50" cy="263.89" r="2.1" fill="#A80C30"/>
<circle cx="480.50" cy="264.79" r="2.1" fill="#A80C30"/>
<rect x="494.10" y="262.25" width="3.8" height="3.8" fill="#183E68"/>
<rect x="497.90" y="261.35" width="3.8" height="3.8" fill="#183E68"/>
<rect x="502.60" y="261.35" width="3.8" height="3.8" fill="#183E68"/>
<rect x="498.60" y="262.76" width="3.8" height="3.8" fill="#183E68"/>
<line x1="440.20" y1="265.30" x2="440.20" y2="267.90" stroke="#1a1a1a" stroke-width="0.9"/>
<line x1="490.80" y1="265.30" x2="490.80" y2="267.90" stroke="#1a1a1a" stroke-width="0.9"/>
<text x="440.20" y="278.80" font-size="8.3" stroke="#1a1a1a" stroke-width="0.12" text-anchor="middle" textLength="15.50" lengthAdjust="spacingAndGlyphs">CD4</text>
<text x="490.80" y="278.80" font-size="8.3" stroke="#1a1a1a" stroke-width="0.12" text-anchor="middle" textLength="15.50" lengthAdjust="spacingAndGlyphs">CD8</text>
<line x1="431.70" y1="177.70" x2="449.50" y2="177.70" stroke="#484848" stroke-width="0.85"/>
<line x1="431.70" y1="176.40" x2="431.70" y2="179.00" stroke="#484848" stroke-width="0.85"/>
<line x1="449.50" y1="176.40" x2="449.50" y2="179.00" stroke="#484848" stroke-width="0.85"/>
<circle cx="440.60" cy="173.50" r="1.05" fill="#1a1a1a"/>
<line x1="481.30" y1="253.50" x2="499.60" y2="253.50" stroke="#484848" stroke-width="0.85"/>
<line x1="481.30" y1="252.20" x2="481.30" y2="254.80" stroke="#484848" stroke-width="0.85"/>
<line x1="499.60" y1="252.20" x2="499.60" y2="254.80" stroke="#484848" stroke-width="0.85"/>
<text x="490.45" y="250.30" font-size="8.2" stroke="#333" stroke-width="0.12" text-anchor="middle" fill="#333">ns</text>
<text x="123.00" y="326.30" font-size="9.2" text-anchor="middle" textLength="16.80" lengthAdjust="spacingAndGlyphs">d17</text>
<line x1="41.00" y1="331.20" x2="121.40" y2="331.20" stroke="#d6d6d6" stroke-width="1.1"/>
<line x1="41.00" y1="331.20" x2="41.00" y2="411.20" stroke="#d6d6d6" stroke-width="1.1"/>
<line x1="121.40" y1="330.70" x2="121.40" y2="411.70" stroke="#ababab" stroke-width="1.0"/>
<line x1="40.50" y1="411.20" x2="121.90" y2="411.20" stroke="#ababab" stroke-width="1.0"/>
<rect x="44.6" y="334.6" width="73.4" height="73.2" fill="none" stroke="#f0f0f0" stroke-width="0.8"/>
<line x1="125.60" y1="331.20" x2="205.60" y2="331.20" stroke="#d6d6d6" stroke-width="1.1"/>
<line x1="125.60" y1="330.70" x2="125.60" y2="411.20" stroke="#b4b4b4" stroke-width="1.0"/>
<line x1="205.60" y1="330.70" x2="205.60" y2="411.70" stroke="#b0b0b0" stroke-width="1.0"/>
<line x1="125.10" y1="411.20" x2="206.10" y2="411.20" stroke="#ababab" stroke-width="1.0"/>
<rect x="129.2" y="334.6" width="72.8" height="73.2" fill="none" stroke="#f0f0f0" stroke-width="0.8"/>
<defs>
<filter id="bl" x="-30%" y="-30%" width="160%" height="160%" color-interpolation-filters="sRGB"><feConvolveMatrix order="3" kernelMatrix="0.04 0.12 0.04 0.12 0.36 0.12 0.04 0.12 0.04" edgeMode="none"/></filter>
<filter id="bl2" x="-30%" y="-30%" width="160%" height="160%"><feGaussianBlur stdDeviation="0.8"/></filter>
<radialGradient id="lobe" cx="0.5" cy="0.5" r="0.5"><stop offset="0" stop-color="#e9e9e9"/><stop offset="0.75" stop-color="#dcdcdc"/><stop offset="1" stop-color="#d0d0d0"/></radialGradient>
<linearGradient id="tear" x1="0.3" y1="1" x2="0.7" y2="0"><stop offset="0" stop-color="#2e2e2e"/><stop offset="0.45" stop-color="#6a6a6a"/><stop offset="1" stop-color="#b4b4b4"/></linearGradient>
<radialGradient id="disc" cx="0.5" cy="0.5" r="0.5"><stop offset="0" stop-color="#ffffff"/><stop offset="0.12" stop-color="#c8c8c8"/><stop offset="0.3" stop-color="#7e7e7e"/><stop offset="0.7" stop-color="#8a8a8a"/><stop offset="0.9" stop-color="#a8a8a8"/><stop offset="1" stop-color="#c8c8c8" stop-opacity="0.2"/></radialGradient>
<radialGradient id="lobe2" cx="0.5" cy="0.5" r="0.5"><stop offset="0" stop-color="#f0f0f0"/><stop offset="0.7" stop-color="#dedede"/><stop offset="1" stop-color="#cfcfcf"/></radialGradient>
</defs>
<defs><linearGradient id="tearS" x1="0.2" y1="1" x2="0.8" y2="0"><stop offset="0" stop-color="#000"/><stop offset="0.45" stop-color="#262626"/><stop offset="1" stop-color="#8a8a8a"/></linearGradient><linearGradient id="tearF" x1="0.2" y1="1" x2="0.8" y2="0"><stop offset="0" stop-color="#a0a0a0"/><stop offset="0.6" stop-color="#a8a8a8"/><stop offset="1" stop-color="#c8c8c8"/></linearGradient></defs>
<g filter="url(#bl)">
<path d="M79.0,352.0 C84,350.6 90.5,351.8 92.8,356.5 C94.6,360.5 93.2,366 89.5,368.3 C86,370.2 81.5,369.6 78.5,368.0 Z" fill="#dcdcdc" stroke="#c2c2c2" stroke-width="0.8"/>
<path d="M80.0,354.2 C84,353 89.3,354 90.8,357.6 C92,360.8 91,364.6 88.4,366.2 C85.6,367.6 82.4,367.2 80,366 Z" fill="#e2e2e2" stroke="#d0d0d0" stroke-width="0.6"/>
<path d="M78.9,351.9 C80.3,352.4 79.9,356.2 78.9,360.6 C77.9,365 77.0,369.6 75.6,372.8 C74.3,375.6 70.4,375.8 68.9,373.7 C67.5,371.6 68.5,367.5 70.5,362.8 C72.5,358.2 75.5,353.5 77.5,352.2 C78.1,351.8 78.5,351.7 78.9,351.9 Z" fill="url(#tearF)" stroke="url(#tearS)" stroke-width="1.9"/>
<path d="M77.6,355.4 C76.8,360.2 75.4,365.6 73.9,369.8" fill="none" stroke="#f0f0f0" stroke-width="1.2"/>
<ellipse cx="73.1" cy="370.9" rx="1.5" ry="1.4" fill="#ffffff"/>
</g>
<defs><radialGradient id="disc2" cx="0.5" cy="0.5" r="0.5"><stop offset="0" stop-color="#ffffff"/><stop offset="0.14" stop-color="#f4f4f4"/><stop offset="0.3" stop-color="#7c7c7c"/><stop offset="0.62" stop-color="#929292"/><stop offset="0.85" stop-color="#b4b4b4"/><stop offset="1" stop-color="#d4d4d4"/></radialGradient></defs>
<g filter="url(#bl)">
<ellipse cx="161.0" cy="363.6" rx="12.6" ry="7.6" fill="#f2f2f2" stroke="#c6c6c6" stroke-width="0.7" transform="rotate(-50 161.0 363.6)"/>
<ellipse cx="163.4" cy="359.2" rx="7.0" ry="5.2" fill="#ebebeb" stroke="#bcbcbc" stroke-width="0.7" transform="rotate(-50 163.4 359.2)"/>
<ellipse cx="163.6" cy="359.0" rx="4.4" ry="3.2" fill="none" stroke="#c8c8c8" stroke-width="0.6" transform="rotate(-50 163.6 359.0)"/>
<circle cx="157.8" cy="368.2" r="7.0" fill="url(#disc2)"/>
<circle cx="157.8" cy="368.2" r="4.6" fill="none" stroke="#7a7a7a" stroke-width="0.6"/>
</g>
<rect x="79.3" y="350.1" width="19.4" height="20.3" fill="none" stroke="#707070" stroke-width="1"/>
<rect x="163.5" y="350.1" width="20.2" height="20.3" fill="none" stroke="#707070" stroke-width="1"/>
<text x="116.60" y="339.90" font-size="8.0" stroke="#222" stroke-width="0.2" text-anchor="end" fill="#222" textLength="23.00" lengthAdjust="spacingAndGlyphs">33.2%</text>
<text x="202.20" y="340.20" font-size="8.0" stroke="#222" stroke-width="0.2" text-anchor="end" fill="#222" textLength="18.60" lengthAdjust="spacingAndGlyphs">3.7%</text>
<text x="45.30" y="408.00" font-size="7.8" stroke="#222" stroke-width="0.12" fill="#222" textLength="9.30" lengthAdjust="spacingAndGlyphs">NT</text>
<text x="128.80" y="408.10" font-size="7.6" stroke="#222" stroke-width="0.12" fill="#222" textLength="18.20" lengthAdjust="spacingAndGlyphs">ΔEx3</text>
<line x1="36.40" y1="415.00" x2="36.40" y2="335.50" stroke="#111" stroke-width="1.1"/>
<path d="M36.4,331.8 L39.0,336.9 L33.8,336.9 Z" fill="#111"/>
<line x1="35.90" y1="414.90" x2="201.00" y2="414.90" stroke="#111" stroke-width="1.1"/>
<path d="M205.0,414.9 L200.0,412.3 L200.0,417.5 Z" fill="#111"/>
<text x="31.80" y="400.75" font-size="9.0" stroke="#111" stroke-width="0.3" text-anchor="middle" fill="#111" textLength="12.10" lengthAdjust="spacingAndGlyphs" transform="rotate(-90 31.80 400.75)">CD4</text>
<text x="36.60" y="427.60" font-size="9.6" stroke="#111" stroke-width="0.3" fill="#111" textLength="12.30" lengthAdjust="spacingAndGlyphs">Ki67</text>
<line x1="281.90" y1="312.50" x2="281.90" y2="413.90" stroke="#1a1a1a" stroke-width="1.1"/>
<line x1="281.40" y1="413.40" x2="379.50" y2="413.40" stroke="#1a1a1a" stroke-width="1.1"/>
<line x1="279.30" y1="413.40" x2="281.90" y2="413.40" stroke="#1a1a1a" stroke-width="0.9"/>
<text x="276.50" y="416.35" font-size="8.2" stroke="#1a1a1a" stroke-width="0.12" text-anchor="end">0</text>
<line x1="279.30" y1="393.90" x2="281.90" y2="393.90" stroke="#1a1a1a" stroke-width="0.9"/>
<text x="276.50" y="396.85" font-size="8.2" stroke="#1a1a1a" stroke-width="0.12" text-anchor="end">200</text>
<line x1="279.30" y1="374.40" x2="281.90" y2="374.40" stroke="#1a1a1a" stroke-width="0.9"/>
<text x="276.50" y="377.35" font-size="8.2" stroke="#1a1a1a" stroke-width="0.12" text-anchor="end">400</text>
<line x1="279.30" y1="354.90" x2="281.90" y2="354.90" stroke="#1a1a1a" stroke-width="0.9"/>
<text x="276.50" y="357.85" font-size="8.2" stroke="#1a1a1a" stroke-width="0.12" text-anchor="end">600</text>
<line x1="279.30" y1="335.40" x2="281.90" y2="335.40" stroke="#1a1a1a" stroke-width="0.9"/>
<text x="276.50" y="338.35" font-size="8.2" stroke="#1a1a1a" stroke-width="0.12" text-anchor="end">800</text>
<line x1="279.30" y1="315.90" x2="281.90" y2="315.90" stroke="#1a1a1a" stroke-width="0.9"/>
<text x="276.50" y="318.85" font-size="8.2" stroke="#1a1a1a" stroke-width="0.12" text-anchor="end">1000</text>
<text x="330.70" y="306.60" font-size="9.2" text-anchor="middle" textLength="16.80" lengthAdjust="spacingAndGlyphs">d35</text>
<text x="251.00" y="363.30" font-size="8.8" stroke="#1a1a1a" stroke-width="0.25" text-anchor="middle" textLength="78.20" lengthAdjust="spacingAndGlyphs" transform="rotate(-90 251.00 363.30)">Absolute counts (cells/uL)</text>
<rect x="286.30" y="358.51" width="8.20" height="54.49" fill="#E17868"/>
<rect x="299.20" y="402.28" width="7.70" height="10.72" fill="#7C8CBF"/>
<rect x="320.20" y="398.38" width="8.20" height="14.61" fill="#E17868"/>
<rect x="332.90" y="397.51" width="8.30" height="15.49" fill="#7C8CBF"/>
<rect x="354.30" y="383.47" width="8.60" height="29.53" fill="#E17868"/>
<rect x="367.10" y="399.46" width="8.10" height="13.54" fill="#7C8CBF"/>
<line x1="290.40" y1="333.94" x2="290.40" y2="382.98" stroke="#CE4058" stroke-width="0.8"/>
<line x1="287.20" y1="333.94" x2="293.60" y2="333.94" stroke="#CE4058" stroke-width="0.8"/>
<line x1="287.20" y1="382.98" x2="293.60" y2="382.98" stroke="#CE4058" stroke-width="0.8"/>
<line x1="303.00" y1="395.36" x2="303.00" y2="407.55" stroke="#1E4470" stroke-width="0.8"/>
<line x1="300.00" y1="395.36" x2="306.00" y2="395.36" stroke="#1E4470" stroke-width="0.8"/>
<line x1="300.00" y1="407.55" x2="306.00" y2="407.55" stroke="#1E4470" stroke-width="0.8"/>
<line x1="324.30" y1="385.61" x2="324.30" y2="410.47" stroke="#CE4058" stroke-width="0.8"/>
<line x1="321.30" y1="385.61" x2="327.30" y2="385.61" stroke="#CE4058" stroke-width="0.8"/>
<line x1="321.30" y1="410.47" x2="327.30" y2="410.47" stroke="#CE4058" stroke-width="0.8"/>
<line x1="337.00" y1="393.90" x2="337.00" y2="402.67" stroke="#1E4470" stroke-width="0.8"/>
<line x1="334.00" y1="393.90" x2="340.00" y2="393.90" stroke="#1E4470" stroke-width="0.8"/>
<line x1="334.00" y1="402.67" x2="340.00" y2="402.67" stroke="#1E4470" stroke-width="0.8"/>
<line x1="358.60" y1="367.57" x2="358.60" y2="398.77" stroke="#CE4058" stroke-width="0.8"/>
<line x1="355.40" y1="367.57" x2="361.80" y2="367.57" stroke="#CE4058" stroke-width="0.8"/>
<line x1="355.40" y1="398.77" x2="361.80" y2="398.77" stroke="#CE4058" stroke-width="0.8"/>
<line x1="371.10" y1="392.44" x2="371.10" y2="406.57" stroke="#1E4470" stroke-width="0.8"/>
<line x1="368.10" y1="392.44" x2="374.10" y2="392.44" stroke="#1E4470" stroke-width="0.8"/>
<line x1="368.10" y1="406.57" x2="374.10" y2="406.57" stroke="#1E4470" stroke-width="0.8"/>
<circle cx="287.60" cy="337.84" r="2.1" fill="#A80C30"/>
<circle cx="292.70" cy="335.98" r="2.1" fill="#A80C30"/>
<circle cx="290.20" cy="377.81" r="2.1" fill="#A80C30"/>
<circle cx="290.20" cy="382.98" r="2.1" fill="#A80C30"/>
<rect x="301.30" y="391.71" width="3.4" height="3.4" fill="#183E68"/>
<rect x="301.30" y="396.10" width="3.4" height="3.4" fill="#183E68"/>
<rect x="298.90" y="402.93" width="3.4" height="3.4" fill="#183E68"/>
<rect x="303.50" y="403.41" width="3.4" height="3.4" fill="#183E68"/>
<circle cx="323.90" cy="379.08" r="2.1" fill="#A80C30"/>
<circle cx="322.40" cy="401.89" r="2.1" fill="#A80C30"/>
<circle cx="325.80" cy="404.62" r="2.1" fill="#A80C30"/>
<circle cx="322.40" cy="407.35" r="2.1" fill="#A80C30"/>
<rect x="333.20" y="397.07" width="3.4" height="3.4" fill="#183E68"/>
<rect x="338.20" y="396.00" width="3.4" height="3.4" fill="#183E68"/>
<rect x="336.70" y="400.19" width="3.4" height="3.4" fill="#183E68"/>
<rect x="333.90" y="403.90" width="3.4" height="3.4" fill="#183E68"/>
<circle cx="358.30" cy="359.58" r="2.1" fill="#A80C30"/>
<circle cx="358.30" cy="390.00" r="2.1" fill="#A80C30"/>
<circle cx="355.50" cy="391.75" r="2.1" fill="#A80C30"/>
<circle cx="361.10" cy="390.78" r="2.1" fill="#A80C30"/>
<rect x="366.70" y="391.91" width="3.4" height="3.4" fill="#183E68"/>
<rect x="371.90" y="390.06" width="3.4" height="3.4" fill="#183E68"/>
<rect x="369.10" y="400.19" width="3.4" height="3.4" fill="#183E68"/>
<rect x="369.10" y="403.90" width="3.4" height="3.4" fill="#183E68"/>
<line x1="296.60" y1="413.40" x2="296.60" y2="416.00" stroke="#1a1a1a" stroke-width="0.9"/>
<line x1="330.70" y1="413.40" x2="330.70" y2="416.00" stroke="#1a1a1a" stroke-width="0.9"/>
<line x1="364.20" y1="413.40" x2="364.20" y2="416.00" stroke="#1a1a1a" stroke-width="0.9"/>
<text x="296.60" y="427.40" font-size="8.3" stroke="#1a1a1a" stroke-width="0.12" text-anchor="middle" textLength="11.50" lengthAdjust="spacingAndGlyphs">Th1</text>
<text x="330.70" y="427.40" font-size="8.3" stroke="#1a1a1a" stroke-width="0.12" text-anchor="middle" textLength="16.00" lengthAdjust="spacingAndGlyphs">Th17</text>
<text x="364.20" y="427.40" font-size="8.3" stroke="#1a1a1a" stroke-width="0.12" text-anchor="middle" textLength="19.00" lengthAdjust="spacingAndGlyphs">Tregs</text>
<line x1="290.20" y1="326.00" x2="303.60" y2="326.00" stroke="#484848" stroke-width="0.85"/>
<line x1="290.20" y1="324.70" x2="290.20" y2="327.30" stroke="#484848" stroke-width="0.85"/>
<line x1="303.60" y1="324.70" x2="303.60" y2="327.30" stroke="#484848" stroke-width="0.85"/>
<circle cx="296.90" cy="321.80" r="1.05" fill="#1a1a1a"/>
<line x1="324.30" y1="372.20" x2="337.70" y2="372.20" stroke="#484848" stroke-width="0.85"/>
<line x1="324.30" y1="370.90" x2="324.30" y2="373.50" stroke="#484848" stroke-width="0.85"/>
<line x1="337.70" y1="370.90" x2="337.70" y2="373.50" stroke="#484848" stroke-width="0.85"/>
<text x="331.00" y="369.70" font-size="8.2" stroke="#333" stroke-width="0.12" text-anchor="middle" fill="#333">ns</text>
<line x1="359.20" y1="352.50" x2="371.50" y2="352.50" stroke="#484848" stroke-width="0.85"/>
<line x1="359.20" y1="351.20" x2="359.20" y2="353.80" stroke="#484848" stroke-width="0.85"/>
<line x1="371.50" y1="351.20" x2="371.50" y2="353.80" stroke="#484848" stroke-width="0.85"/>
<text x="365.35" y="349.70" font-size="8.2" stroke="#333" stroke-width="0.12" text-anchor="middle" fill="#333">ns</text>
<line x1="448.40" y1="313.30" x2="448.40" y2="413.80" stroke="#1a1a1a" stroke-width="1.1"/>
<line x1="447.90" y1="413.30" x2="513.10" y2="413.30" stroke="#1a1a1a" stroke-width="1.1"/>
<line x1="445.80" y1="413.30" x2="448.40" y2="413.30" stroke="#1a1a1a" stroke-width="0.9"/>
<text x="443.00" y="416.25" font-size="8.2" stroke="#1a1a1a" stroke-width="0.12" text-anchor="end">0</text>
<line x1="445.80" y1="389.10" x2="448.40" y2="389.10" stroke="#1a1a1a" stroke-width="0.9"/>
<text x="443.00" y="392.05" font-size="8.2" stroke="#1a1a1a" stroke-width="0.12" text-anchor="end">200</text>
<line x1="445.80" y1="364.90" x2="448.40" y2="364.90" stroke="#1a1a1a" stroke-width="0.9"/>
<text x="443.00" y="367.85" font-size="8.2" stroke="#1a1a1a" stroke-width="0.12" text-anchor="end">400</text>
<line x1="445.80" y1="340.70" x2="448.40" y2="340.70" stroke="#1a1a1a" stroke-width="0.9"/>
<text x="443.00" y="343.65" font-size="8.2" stroke="#1a1a1a" stroke-width="0.12" text-anchor="end">600</text>
<line x1="445.80" y1="316.50" x2="448.40" y2="316.50" stroke="#1a1a1a" stroke-width="0.9"/>
<text x="443.00" y="319.45" font-size="8.2" stroke="#1a1a1a" stroke-width="0.12" text-anchor="end">800</text>
<text x="480.70" y="306.60" font-size="9.2" text-anchor="middle" textLength="16.80" lengthAdjust="spacingAndGlyphs">d35</text>
<text x="410.60" y="363.00" font-size="8.4" stroke="#1a1a1a" stroke-width="0.25" text-anchor="middle" textLength="36.80" lengthAdjust="spacingAndGlyphs" transform="rotate(-90 410.60 363.00)">CD4+IFN-γ+</text>
<text x="421.90" y="362.40" font-size="8.8" stroke="#1a1a1a" stroke-width="0.25" text-anchor="middle" textLength="77.00" lengthAdjust="spacingAndGlyphs" transform="rotate(-90 421.90 362.40)">absolute counts (cells/uL)</text>
<rect x="458.20" y="373.73" width="18.00" height="39.17" fill="#E17868"/>
<rect x="485.70" y="405.31" width="18.00" height="7.59" fill="#7C8CBF"/>
<line x1="467.20" y1="345.42" x2="467.20" y2="401.44" stroke="#CE4058" stroke-width="0.8"/>
<line x1="463.00" y1="345.42" x2="471.40" y2="345.42" stroke="#CE4058" stroke-width="0.8"/>
<line x1="463.00" y1="401.44" x2="471.40" y2="401.44" stroke="#CE4058" stroke-width="0.8"/>
<line x1="494.70" y1="399.99" x2="494.70" y2="410.88" stroke="#1E4470" stroke-width="0.8"/>
<line x1="490.50" y1="399.99" x2="498.90" y2="399.99" stroke="#1E4470" stroke-width="0.8"/>
<line x1="490.50" y1="410.88" x2="498.90" y2="410.88" stroke="#1E4470" stroke-width="0.8"/>
<circle cx="467.20" cy="335.86" r="2.1" fill="#A80C30"/>
<circle cx="467.20" cy="368.65" r="2.1" fill="#A80C30"/>
<circle cx="463.30" cy="394.91" r="2.1" fill="#A80C30"/>
<circle cx="471.00" cy="394.91" r="2.1" fill="#A80C30"/>
<rect x="488.90" y="399.66" width="3.8" height="3.8" fill="#183E68"/>
<rect x="496.70" y="397.73" width="3.8" height="3.8" fill="#183E68"/>
<rect x="488.90" y="408.74" width="3.8" height="3.8" fill="#183E68"/>
<rect x="496.70" y="405.96" width="3.8" height="3.8" fill="#183E68"/>
<line x1="467.20" y1="413.30" x2="467.20" y2="415.90" stroke="#1a1a1a" stroke-width="0.9"/>
<line x1="494.70" y1="413.30" x2="494.70" y2="415.90" stroke="#1a1a1a" stroke-width="0.9"/>
<text x="467.20" y="427.40" font-size="8.3" stroke="#1a1a1a" stroke-width="0.12" text-anchor="middle" textLength="9.60" lengthAdjust="spacingAndGlyphs">NT</text>
<text x="494.70" y="427.40" font-size="8.3" stroke="#1a1a1a" stroke-width="0.12" text-anchor="middle" textLength="17.50" lengthAdjust="spacingAndGlyphs">ΔEx3</text>
<line x1="468.40" y1="324.20" x2="494.70" y2="324.20" stroke="#484848" stroke-width="0.85"/>
<line x1="468.40" y1="322.90" x2="468.40" y2="325.50" stroke="#484848" stroke-width="0.85"/>
<line x1="494.70" y1="322.90" x2="494.70" y2="325.50" stroke="#484848" stroke-width="0.85"/>
<circle cx="481.55" cy="320.00" r="1.05" fill="#1a1a1a"/>
</g>
<rect x="0.5" y="0.5" width="519" height="434" fill="none" stroke="#555" stroke-width="1"/>
</svg>
</body></html>
